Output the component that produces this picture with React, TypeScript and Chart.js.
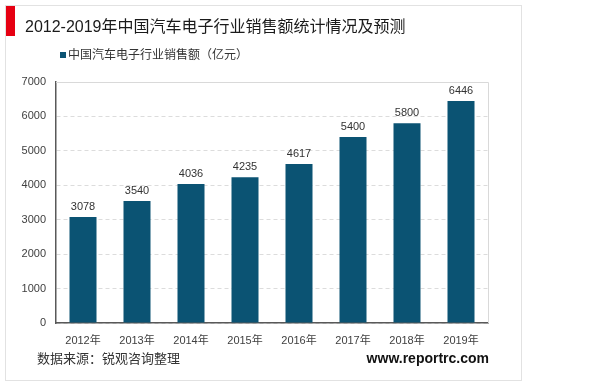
import React, { useEffect, useRef } from "react";
import { Chart, registerables } from "chart.js";

Chart.register(...registerables);

const categories = ["2012年", "2013年", "2014年", "2015年", "2016年", "2017年", "2018年", "2019年"];
const salesValues = [3078, 3540, 4036, 4235, 4617, 5400, 5800, 6446];
const seriesName = "中国汽车电子行业销售额（亿元）";
const titleText = "2012-2019年中国汽车电子行业销售额统计情况及预测";
const sourceText = "数据来源：锐观咨询整理";
const siteText = "www.reportrc.com";

const FONT = '"Liberation Sans", Arial, "Noto Sans CJK SC", sans-serif';
const BAR = "#0B5373";

const decorPlugin = {
  id: "decor",
  beforeDraw(chart: any) {
    const ctx = chart.ctx;
    ctx.save();
    ctx.fillStyle = "#ffffff";
    ctx.fillRect(0, 0, chart.width, chart.height);
    ctx.strokeStyle = "#e2e2e2";
    ctx.lineWidth = 1;
    ctx.strokeRect(5.5, 5.5, 516, 375);
    ctx.fillStyle = "#e60012";
    ctx.fillRect(6, 6, 9, 30);
    ctx.restore();
  },
  afterDatasetsDraw(chart: any) {
    const ctx = chart.ctx;
    const meta = chart.getDatasetMeta(0);
    const data = chart.data.datasets[0].data;
    ctx.save();
    ctx.font = `11px ${FONT}`;
    ctx.fillStyle = "#333333";
    ctx.textAlign = "center";
    ctx.textBaseline = "alphabetic";
    meta.data.forEach((el: any, i: number) => {
      ctx.fillText(String(data[i]), el.x, el.y - 7);
    });
    ctx.restore();
  },
  afterDraw(chart: any) {
    const ctx = chart.ctx;
    const ca = chart.chartArea;
    ctx.save();
    ctx.strokeStyle = "#d9d9d9";
    ctx.lineWidth = 1;
    ctx.beginPath();
    ctx.moveTo(ca.left, ca.top + 0.5);
    ctx.lineTo(ca.right + 0.5, ca.top + 0.5);
    ctx.lineTo(ca.right + 0.5, ca.bottom);
    ctx.stroke();
    ctx.fillStyle = "#1a1a1a";
    ctx.font = `16px ${FONT}`;
    ctx.textAlign = "left";
    ctx.textBaseline = "alphabetic";
    ctx.fillText(titleText, 25, 32);
    ctx.fillStyle = BAR;
    ctx.fillRect(60, 52, 6, 6);
    ctx.fillStyle = "#333333";
    ctx.font = `12px ${FONT}`;
    ctx.textBaseline = "middle";
    ctx.fillText(seriesName, 68, 56);
    ctx.font = `13px ${FONT}`;
    ctx.fillStyle = "#333333";
    ctx.fillText(sourceText, 37, 359);
    ctx.font = `bold 14px ${FONT}`;
    ctx.fillStyle = "#111111";
    ctx.textAlign = "right";
    ctx.fillText(siteText, 489, 359);
    ctx.restore();
  },
};

export default function App() {
  const ref = useRef<HTMLCanvasElement>(null);
  useEffect(() => {
    if (!ref.current) return;
    const chart = new Chart(ref.current, {
      type: "bar",
      data: {
        labels: categories,
        datasets: [
          {
            label: seriesName,
            data: salesValues,
            backgroundColor: BAR,
            categoryPercentage: 1,
            barPercentage: 0.5,
          },
        ],
      },
      options: {
        responsive: false,
        animation: false,
        layout: { padding: { left: 0, right: 112, top: 82, bottom: 0 } },
        plugins: {
          legend: { display: false },
          title: { display: false },
          tooltip: { enabled: false },
        },
        scales: {
          x: {
            grid: { display: false, drawTicks: false },
            border: { display: true, color: "#595959", width: 1.5 },
            ticks: { font: { size: 11, family: FONT }, color: "#404040", padding: 11, maxRotation: 0, autoSkip: false },
            afterFit: (s: any) => {
              s.height = 62;
            },
          },
          y: {
            min: 0,
            max: 7000,
            grid: { color: "#dcdcdc", drawTicks: false, lineWidth: 1 },
            border: { display: true, color: "#595959", width: 1.5, dash: [4, 3] },
            ticks: {
              stepSize: 1000,
              font: { size: 11, family: FONT },
              color: "#404040",
              padding: 10,
              callback: (v: any) => String(v),
            },
            afterFit: (s: any) => {
              s.width = 56;
            },
          },
        },
      },
      plugins: [decorPlugin],
    });
    return () => chart.destroy();
  }, []);
  return (
    <div style={{ position: "absolute", left: 0, top: 0, width: 600, height: 385, background: "#fff" }}>
      <canvas ref={ref} width={600} height={385} style={{ display: "block" }} />
    </div>
  );
}
